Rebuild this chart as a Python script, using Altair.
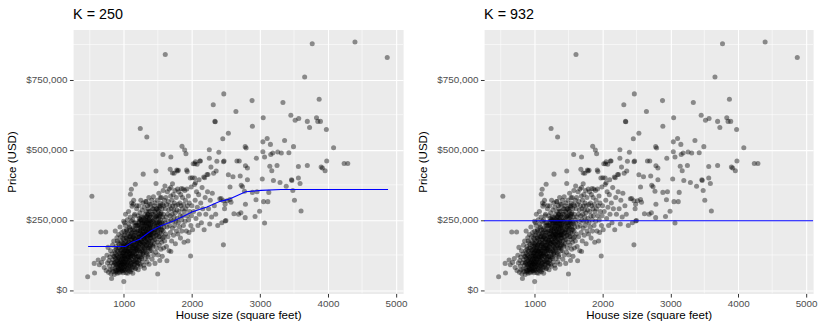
import altair as alt
import pandas as pd

# Sacramento-style housing sample: [house size in sq ft, price in thousands of USD]
homes_under_1000 = [
    [469, 47], [531, 334], [565, 95], [570, 61], [623, 107], [640, 90], [662, 207], [675, 98],
    [700, 112], [712, 80], [734, 207], [740, 70], [752, 124], [760, 96], [768, 152], [775, 63],
    [782, 105], [790, 86], [795, 118], [800, 72], [805, 140], [812, 58], [818, 97], [820, 41],
    [825, 128], [830, 74], [835, 160], [838, 108], [842, 66], [848, 88], [852, 175], [855, 120],
    [860, 55], [862, 98], [866, 140], [870, 78], [874, 210], [878, 112], [880, 64], [885, 155],
    [888, 92], [892, 126], [895, 70], [898, 186], [902, 104], [905, 60], [908, 138], [912, 82],
    [915, 168], [918, 115], [920, 73], [924, 198], [926, 95], [930, 130], [932, 62], [935, 150],
    [938, 88], [940, 110], [944, 225], [946, 76], [950, 142], [952, 100], [955, 66], [958, 175],
    [960, 120], [962, 85], [965, 158], [968, 95], [970, 205], [972, 70], [975, 132], [978, 112],
    [980, 80], [983, 185], [985, 145], [988, 62], [990, 100], [992, 165], [994, 122], [996, 90],
    [998, 245], [999, 135], [1000, 30], [1000, 75], [1000, 150], [1000, 110], [1000, 210], [1000, 180],
]

homes_1000_1200 = [
    [1005, 95], [1008, 160], [1010, 120], [1012, 70], [1015, 195], [1018, 140], [1020, 100], [1022, 230],
    [1025, 85], [1028, 175], [1030, 125], [1032, 62], [1035, 155], [1038, 210], [1040, 108], [1042, 90],
    [1045, 185], [1048, 135], [1050, 75], [1052, 250], [1055, 118], [1058, 165], [1060, 98], [1062, 140],
    [1065, 200], [1068, 82], [1070, 150], [1072, 112], [1075, 235], [1078, 128], [1080, 68], [1082, 172],
    [1085, 105], [1088, 190], [1090, 145], [1092, 88], [1095, 260], [1097, 341], [1098, 120], [1100, 160],
    [1100, 215], [1102, 95], [1105, 180], [1108, 130], [1110, 72], [1111, 359], [1112, 245], [1115, 110],
    [1118, 165], [1120, 140], [1121, 299], [1122, 90], [1125, 205], [1128, 125], [1130, 185], [1132, 60],
    [1135, 150], [1138, 100], [1140, 306], [1140, 222], [1142, 170], [1145, 135], [1148, 82], [1150, 195],
    [1152, 118], [1155, 265], [1158, 158], [1160, 102], [1162, 215], [1165, 140], [1168, 76], [1169, 377],
    [1170, 180], [1172, 125], [1175, 240], [1178, 95], [1180, 160], [1182, 205], [1185, 130], [1188, 290],
    [1190, 110], [1192, 175], [1195, 145], [1198, 230], [1200, 88], [1200, 190],
    [1010, 240], [1025, 270], [1040, 215], [1055, 60], [1070, 280], [1085, 225], [1100, 65], [1115, 310],
    [1130, 250], [1145, 320], [1160, 270], [1175, 78], [1190, 300], [1034, 142], [1064, 118], [1094, 128],
    [1124, 152], [1154, 172], [1184, 145], [1016, 112], [1046, 160], [1076, 190], [1106, 200], [1136, 190],
    [1166, 230], [1196, 160],
]

homes_1200_1400 = [
    [1202, 140], [1205, 215], [1208, 95], [1210, 265], [1212, 175], [1215, 120], [1218, 240], [1220, 155],
    [1222, 300], [1225, 190], [1228, 108], [1230, 230], [1232, 165], [1235, 275], [1238, 135], [1240, 205],
    [1242, 576], [1244, 250], [1246, 85], [1248, 180], [1250, 320], [1252, 150], [1255, 225], [1258, 118],
    [1260, 260], [1262, 195], [1265, 140], [1268, 285], [1270, 170], [1272, 100], [1275, 240], [1278, 210],
    [1280, 155], [1282, 310], [1285, 413], [1285, 185], [1288, 125], [1290, 255], [1292, 220], [1295, 165],
    [1298, 295], [1300, 200], [1302, 78], [1305, 235], [1308, 145], [1310, 270], [1312, 190], [1315, 112],
    [1318, 250], [1320, 175], [1322, 315], [1325, 215], [1328, 135], [1329, 315], [1330, 280], [1332, 160],
    [1335, 230], [1338, 545], [1338, 195], [1340, 100], [1342, 262], [1345, 180], [1348, 300], [1350, 220],
    [1352, 150], [1355, 245], [1358, 125], [1360, 290], [1362, 205], [1365, 170], [1368, 330], [1370, 235],
    [1372, 92], [1375, 195], [1377, 306], [1378, 260], [1380, 155], [1382, 222], [1385, 280], [1388, 140],
    [1390, 245], [1392, 185], [1395, 305], [1398, 210],
    [1212, 72], [1236, 92], [1254, 245], [1276, 128], [1296, 88], [1318, 198], [1334, 262], [1356, 118],
    [1374, 148], [1396, 168], [1226, 255], [1244, 210], [1264, 228], [1286, 205], [1306, 182], [1326, 240],
    [1346, 206], [1366, 252], [1386, 198], [1214, 188], [1234, 212], [1256, 172], [1274, 198], [1294, 238],
    [1314, 218], [1336, 172], [1354, 268], [1376, 228], [1394, 232],
]

# the crowded core of the scatter, where most homes sit
homes_core = [
    [862, 118], [868, 95], [873, 132], [877, 70], [883, 101], [887, 145], [893, 84], [897, 122],
    [903, 66], [906, 175], [911, 109], [914, 90], [919, 150], [923, 78], [927, 118], [931, 98],
    [936, 162], [939, 72], [943, 134], [947, 103], [951, 88], [954, 190], [957, 126], [961, 74],
    [964, 108], [967, 143], [971, 92], [974, 168], [977, 120], [981, 68], [984, 102], [987, 155],
    [991, 130], [993, 86], [997, 196], [1003, 115], [1006, 140], [1009, 82], [1013, 168], [1017, 100],
    [1019, 130], [1023, 72], [1027, 150], [1029, 112], [1033, 185], [1037, 94], [1039, 128], [1043, 160],
    [1047, 78], [1049, 205], [1053, 138], [1057, 99], [1059, 180], [1063, 122], [1067, 88], [1069, 145],
    [1073, 170], [1077, 105], [1079, 220], [1083, 135], [1087, 74], [1089, 158], [1093, 115], [1096, 192],
    [1099, 140], [1103, 85], [1107, 165], [1109, 122], [1113, 205], [1117, 98], [1119, 178], [1123, 132],
    [1127, 80], [1129, 158], [1133, 215], [1137, 120], [1139, 145], [1143, 188], [1147, 105], [1149, 240],
    [1153, 150], [1157, 92], [1159, 182], [1163, 128], [1167, 205], [1169, 160], [1173, 110], [1177, 195],
    [1179, 142], [1183, 230], [1187, 118], [1189, 170], [1193, 98], [1197, 210], [1199, 150],
    [1203, 178], [1207, 120], [1209, 230], [1213, 155], [1217, 200], [1219, 105], [1223, 170], [1227, 245],
    [1229, 140], [1233, 190], [1237, 118], [1239, 222], [1243, 165], [1247, 135], [1249, 200], [1253, 250],
    [1257, 178], [1259, 112], [1263, 215], [1267, 160], [1269, 238], [1273, 145], [1277, 192], [1279, 260],
    [1283, 170], [1287, 132], [1289, 220], [1293, 185], [1297, 150], [1299, 245], [1303, 198], [1307, 162],
    [1309, 228], [1313, 140], [1317, 210], [1319, 255], [1323, 185], [1327, 158], [1329, 235], [1333, 205],
    [1337, 130], [1339, 248], [1343, 190], [1347, 225], [1349, 168], [1353, 270], [1357, 210], [1359, 152],
    [1363, 238], [1367, 195], [1369, 280], [1373, 175], [1377, 220], [1379, 248], [1383, 185], [1387, 265],
    [1389, 205], [1393, 160], [1397, 240], [1399, 198],
    [1403, 225], [1409, 195], [1413, 270], [1419, 210], [1423, 160], [1429, 245], [1433, 290], [1439, 205],
    [1443, 230], [1449, 180], [1453, 255], [1459, 215], [1463, 275], [1469, 240], [1474, 195], [1479, 260],
    [1483, 220], [1489, 290], [1493, 240], [1499, 205], [1503, 265], [1509, 225], [1513, 280], [1519, 245],
    [1523, 190], [1529, 262], [1533, 300], [1539, 235], [1543, 270], [1549, 215],
]

homes_1400_1600 = [
    [1402, 185], [1405, 260], [1408, 140], [1410, 320], [1412, 215], [1415, 110], [1418, 245], [1420, 175],
    [1422, 290], [1425, 230], [1428, 155], [1430, 270], [1432, 200], [1435, 332], [1438, 125], [1440, 250],
    [1442, 190], [1445, 300], [1448, 215], [1450, 165], [1452, 280], [1455, 235], [1458, 95], [1460, 310],
    [1462, 205], [1465, 180], [1468, 260], [1470, 135], [1473, 424], [1473, 380], [1475, 225], [1478, 290],
    [1480, 195], [1482, 150], [1485, 265], [1488, 240], [1490, 320], [1492, 170], [1495, 210], [1498, 57],
    [1500, 285], [1502, 230], [1505, 125], [1508, 255], [1510, 300], [1512, 190], [1515, 345], [1518, 220],
    [1520, 160], [1522, 270], [1525, 240], [1528, 105], [1530, 295], [1532, 205], [1535, 250], [1536, 329],
    [1538, 180], [1540, 310], [1542, 225], [1545, 145], [1548, 275], [1550, 200], [1552, 330], [1555, 240],
    [1558, 170], [1560, 290], [1562, 215], [1565, 120], [1568, 260], [1570, 305], [1572, 185], [1575, 483],
    [1575, 235], [1578, 355], [1580, 210], [1582, 270], [1585, 150], [1588, 300], [1590, 225], [1592, 190],
    [1595, 250], [1598, 320], [1600, 175],
]

homes_1600_2000 = [
    [1604, 371], [1606, 240], [1609, 839], [1610, 290], [1614, 200], [1618, 330], [1622, 260], [1626, 155],
    [1630, 305], [1633, 104], [1636, 225], [1640, 350], [1644, 270], [1648, 190], [1652, 315], [1656, 245],
    [1660, 285], [1664, 140], [1668, 360], [1672, 230], [1676, 300], [1680, 265], [1681, 430], [1684, 205],
    [1688, 335], [1691, 474], [1691, 365], [1691, 137], [1694, 250], [1698, 290], [1702, 175], [1706, 320],
    [1710, 270], [1714, 220], [1715, 379], [1715, 417], [1718, 300], [1722, 245], [1726, 340], [1730, 195],
    [1734, 285], [1738, 260], [1739, 416], [1742, 310], [1746, 230], [1750, 355], [1754, 275], [1758, 165],
    [1762, 300], [1766, 245], [1770, 330], [1774, 210], [1778, 428], [1780, 285], [1784, 255], [1787, 424],
    [1790, 360], [1794, 200], [1798, 305], [1800, 240],
    [1802, 427], [1808, 350], [1812, 280], [1818, 225], [1822, 310], [1828, 265], [1832, 185], [1836, 340],
    [1840, 300], [1845, 362], [1848, 250], [1852, 210], [1855, 512], [1858, 290], [1862, 330], [1866, 265],
    [1870, 360], [1875, 230], [1880, 305], [1885, 170], [1890, 280], [1894, 499], [1896, 355], [1900, 245],
    [1905, 320], [1910, 290], [1913, 486], [1918, 210], [1923, 428], [1926, 360], [1930, 265], [1932, 422],
    [1936, 300], [1942, 175], [1948, 335], [1952, 250], [1958, 205], [1962, 310], [1968, 280], [1976, 399],
    [1981, 121], [1985, 230], [1990, 367], [1994, 265], [2000, 300],
]

homes_2000_2500 = [
    [2005, 400], [2010, 215], [2019, 450], [2025, 280], [2039, 399], [2039, 376], [2043, 450], [2048, 320],
    [2053, 457], [2053, 382], [2060, 255], [2068, 350], [2077, 448], [2080, 295], [2090, 230], [2100, 340],
    [2106, 393], [2110, 270], [2116, 460], [2126, 460], [2130, 310], [2140, 240], [2150, 365], [2160, 290],
    [2174, 403], [2180, 215], [2188, 400], [2195, 330], [2205, 270], [2222, 412], [2230, 350], [2237, 412],
    [2245, 290], [2256, 500], [2256, 470], [2262, 235], [2270, 320], [2280, 438], [2290, 260], [2300, 345],
    [2314, 660], [2319, 416], [2330, 300], [2338, 601], [2343, 600], [2350, 270], [2357, 424], [2367, 459],
    [2380, 230], [2396, 491], [2410, 325], [2430, 326], [2440, 240], [2454, 539], [2463, 318], [2463, 161],
    [2464, 457], [2469, 699], [2473, 460], [2480, 290], [2488, 306], [2490, 246], [2500, 248],
]

homes_over_2500 = [
    [2517, 318], [2536, 559], [2536, 411], [2560, 367], [2560, 323], [2575, 313], [2604, 404], [2618, 272],
    [2647, 636], [2662, 460], [2686, 270], [2696, 460], [2710, 406], [2720, 275], [2725, 373], [2744, 368],
    [2773, 352], [2783, 511], [2783, 258], [2787, 443], [2787, 306], [2797, 506], [2816, 435], [2816, 393],
    [2884, 675], [2889, 584], [2889, 348], [2928, 262], [2942, 322], [2947, 470], [2957, 350], [2995, 281],
    [3034, 396], [3043, 528], [3043, 493], [3048, 614], [3053, 315], [3068, 474], [3068, 239], [3106, 540],
    [3116, 315], [3130, 348], [3145, 441], [3154, 519], [3159, 483], [3174, 425], [3188, 488], [3198, 390],
    [3251, 444], [3261, 492], [3295, 383], [3314, 488], [3338, 668], [3362, 533], [3386, 370], [3425, 489],
    [3454, 623], [3464, 393], [3469, 390], [3483, 355], [3493, 511], [3507, 320], [3517, 605], [3565, 440],
    [3565, 399], [3570, 611], [3589, 380], [3604, 282], [3657, 759], [3696, 601], [3696, 444], [3729, 579],
    [3768, 878], [3831, 614], [3850, 601], [3889, 601], [3870, 680], [3899, 438], [3918, 435], [3957, 425],
    [3976, 572], [3981, 460], [4082, 507], [4237, 451], [4290, 451], [4396, 884], [4870, 829],
]

# K = 250 nearest-neighbour prediction curve (sq ft, thousands of USD)
knn250_size = [475, 1024, 1111, 1232, 1401, 1546, 1739, 1884, 2000, 2222, 2415, 2536, 2660, 2790, 3019, 3309, 4882]
knn250_price = [155, 155, 169, 181, 211, 229, 247, 264, 278, 296, 316, 323, 336, 350, 355, 358, 358]

# K = 932 uses every house, so the prediction is the overall mean price
knn932_price = 247

x_ticks = [1000, 2000, 3000, 4000, 5000]
x_minor = [500, 1500, 2500, 3500, 4500]
y_ticks = [0, 250000, 500000, 750000]
y_minor = [125000, 375000, 625000, 875000]

rows = (homes_under_1000 + homes_1000_1200 + homes_1200_1400 + homes_core + homes_1400_1600
        + homes_1600_2000 + homes_2000_2500 + homes_over_2500)
homes = pd.DataFrame(rows, columns=["sqft", "price"])
homes["price"] = homes["price"] * 1000

curve = pd.DataFrame({"sqft": knn250_size, "price": [p * 1000 for p in knn250_price]})

FONT = "Liberation Sans"
x_scale = alt.Scale(domain=[255, 5103], nice=False, zero=False)
y_scale = alt.Scale(domain=[-12000, 928000], nice=False, zero=False)

x_axis = alt.Axis(values=x_ticks, format="d", title="House size (square feet)", grid=True,
                  gridColor="white", gridWidth=1.1, domain=False, tickSize=3.7,
                  tickColor="#333333", tickWidth=1, labelColor="#4D4D4D",
                  labelFontSize=10, labelPadding=1.5, titleFontSize=11.7,
                  titleFontWeight="normal", titleColor="black", titlePadding=1,
                  labelFont=FONT, titleFont=FONT)
y_axis = alt.Axis(values=y_ticks, title="Price (USD)", format="$,.0f", grid=True,
                  gridColor="white", gridWidth=1.1, domain=False, tickSize=3.7,
                  tickColor="#333333", tickWidth=1, labelColor="#4D4D4D",
                  labelFontSize=10, labelPadding=2.5, titleFontSize=11.7,
                  titleFontWeight="normal", titleColor="black", titlePadding=8,
                  labelFont=FONT, titleFont=FONT)

X = alt.X("sqft:Q", scale=x_scale, axis=x_axis)
Y = alt.Y("price:Q", scale=y_scale, axis=y_axis)


def panel(title, fit, width):
    minor_v = alt.Chart(pd.DataFrame({"sqft": x_minor})).mark_rule(
        color="white", strokeWidth=0.55).encode(x=X)
    minor_h = alt.Chart(pd.DataFrame({"price": y_minor})).mark_rule(
        color="white", strokeWidth=0.55).encode(y=Y)
    points = alt.Chart(homes).mark_circle(size=26, color="black", opacity=0.42).encode(x=X, y=Y)
    return alt.layer(minor_v, minor_h, points, fit).properties(
        width=width, height=267,
        title=alt.TitleParams(title, anchor="start", frame="group", fontSize=14.5,
                              font=FONT, fontWeight="normal", color="black", offset=7),
    )


fit_250 = alt.Chart(curve).mark_line(color="blue", strokeWidth=1.1).encode(x=X, y=Y)
fit_932 = alt.Chart(pd.DataFrame({"price": [knn932_price * 1000]})).mark_rule(
    color="blue", strokeWidth=1.1).encode(y=Y)

chart = alt.hconcat(panel("K = 250", fit_250, 334), panel("K = 932", fit_932, 333), spacing=9).properties(
    padding={"left": 6, "top": 4, "right": 3, "bottom": 1},
    background="white",
).configure_view(fill="#EBEBEB", stroke="transparent")

chart.save("out.html", embed_options={"renderer": "svg", "actions": False})
